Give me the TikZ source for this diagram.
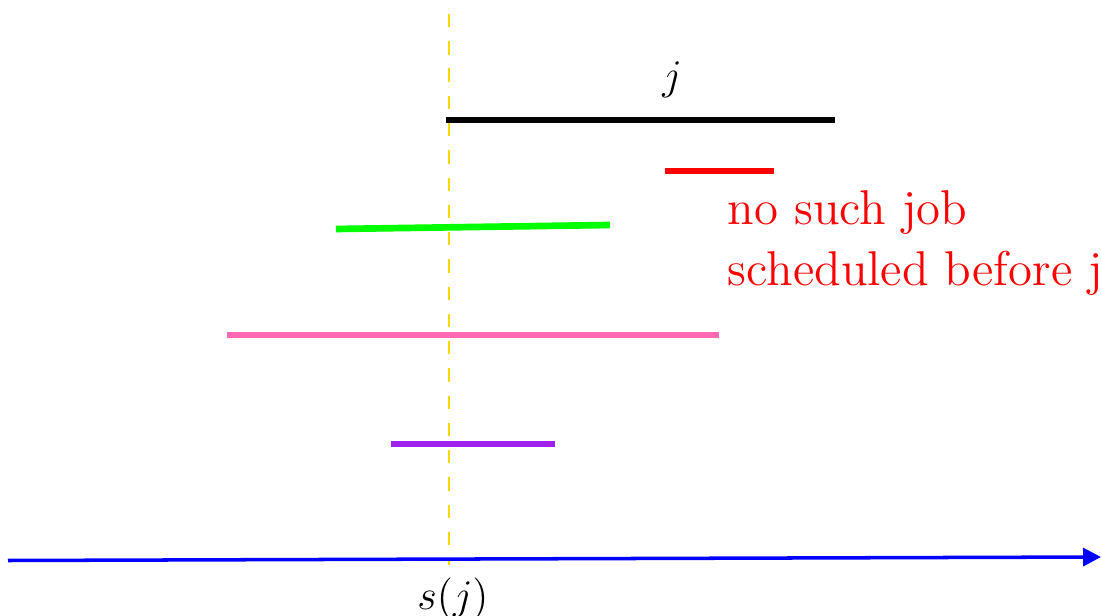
\documentclass[tikz,border=0pt]{standalone}
\usetikzlibrary{arrows.meta}
\definecolor{jobgold}{RGB}{255,215,0}
\definecolor{jobgreen}{RGB}{0,255,0}
\definecolor{jobpink}{RGB}{255,105,180}
\definecolor{jobpurple}{RGB}{160,32,240}
\tikzset{
  bar/.style={line width=1.9pt, line cap=butt},
  axis/.style={blue, line width=1pt, -{Triangle[length=0.18cm,width=0.18cm]}},
  marker/.style={jobgold, line width=0.8pt, dash pattern=on 3.8pt off 3.95pt},
  lbl/.style={inner sep=0pt, font=\fontsize{11.7}{14}\selectfont},
  note/.style={inner sep=0pt, red, align=left, font=\fontsize{13.9}{17.6}\selectfont}
}
\begin{document}
\begin{tikzpicture}[x=0.01cm,y=-0.01cm]
\useasboundingbox (0,0) rectangle (1101,616);
% coordinates
\coordinate (ds) at (449,14);
\coordinate (de) at (449,565);
\coordinate (ax0) at (8,560.5);
\coordinate (ax1) at (1101,557);
\coordinate (b0) at (446,120);
\coordinate (b1) at (835,120);
\coordinate (r0) at (665,171);
\coordinate (r1) at (774,171);
\coordinate (g0) at (336,229);
\coordinate (g1) at (610,225);
\coordinate (p0) at (227,335);
\coordinate (p1) at (719,335);
\coordinate (v0) at (391,444);
\coordinate (v1) at (555,444);
% marker line
\draw[marker] (ds) -- (de);
% bars
\draw[bar, black] (b0) -- (b1);
\draw[bar, red] (r0) -- (r1);
\draw[bar, jobgreen] (g0) -- (g1);
\draw[bar, jobpink] (p0) -- (p1);
\draw[bar, jobpurple] (v0) -- (v1);
% axis
\draw[axis] (ax0) -- (ax1);
% labels
\node[lbl] (jl) at (672,79.5) {$j$};
\node[lbl, anchor=base] (sj) at (453,609) {$s(j)$};
\node[note, anchor=base west] (nt) at (727,286) {no such job\\scheduled before j};
\end{tikzpicture}
\end{document}
